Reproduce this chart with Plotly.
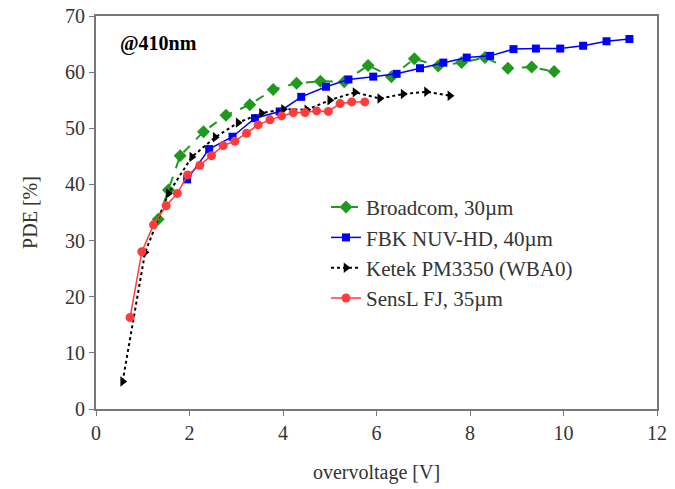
import plotly.graph_objects as go

# Broadcom, 30um
broadcom_v = [1.33, 1.55, 1.8, 2.3, 2.78, 3.29, 3.79, 4.29, 4.8, 5.31, 5.82, 6.32, 6.81, 7.32, 7.82, 8.32, 8.81, 9.32, 9.8]
broadcom_pde = [33.8, 39.0, 45.1, 49.4, 52.3, 54.2, 56.9, 58.0, 58.4, 58.3, 61.2, 59.2, 62.4, 61.1, 61.7, 62.6, 60.7, 60.9, 60.1]

# FBK NUV-HD, 40um
fbk_v = [1.95, 2.42, 2.92, 3.4, 3.93, 4.39, 4.92, 5.4, 5.93, 6.43, 6.93, 7.43, 7.93, 8.43, 8.93, 9.41, 9.93, 10.42, 10.92, 11.41]
fbk_pde = [40.9, 46.3, 48.5, 51.8, 53.0, 55.6, 57.4, 58.7, 59.2, 59.7, 60.7, 61.7, 62.6, 62.9, 64.1, 64.2, 64.2, 64.7, 65.5, 65.9]

# Ketek PM3350 (WBA0)
ketek_v = [0.57, 1.05, 1.55, 2.05, 2.55, 3.04, 3.54, 4.01, 4.51, 5.0, 5.54, 6.07, 6.57, 7.07, 7.57]
ketek_pde = [4.9, 27.9, 38.4, 44.9, 48.4, 51.0, 52.7, 53.4, 53.3, 55.0, 56.4, 55.3, 56.1, 56.5, 55.8]

# SensL FJ, 35um
sensl_v = [0.73, 0.98, 1.23, 1.5, 1.74, 1.96, 2.22, 2.47, 2.72, 2.97, 3.22, 3.47, 3.72, 3.97, 4.22, 4.47, 4.72, 4.97, 5.22, 5.47, 5.75]
sensl_pde = [16.3, 28.0, 32.8, 36.2, 38.4, 41.7, 43.4, 45.1, 46.9, 47.7, 49.1, 50.6, 51.5, 52.2, 52.8, 52.8, 53.1, 53.0, 54.4, 54.7, 54.7]

serif = "Liberation Serif"
txt = "#333333"

fig = go.Figure()
fig.add_trace(go.Scatter(x=broadcom_v, y=broadcom_pde, mode="lines+markers", name="Broadcom, 30µm",
                         line=dict(color="#1f9a1f", width=2, dash="dash"),
                         marker=dict(symbol="diamond", size=10, color="#1f9a1f")))
fig.add_trace(go.Scatter(x=fbk_v, y=fbk_pde, mode="lines+markers", name="FBK NUV-HD, 40µm",
                         line=dict(color="#0000ff", width=1.5),
                         marker=dict(symbol="square", size=8, color="#0000ff")))
fig.add_trace(go.Scatter(x=ketek_v, y=ketek_pde, mode="lines+markers", name="Ketek PM3350 (WBA0)",
                         line=dict(color="black", width=2, dash="dot"),
                         marker=dict(symbol="triangle-right", size=9, color="black")))
fig.add_trace(go.Scatter(x=sensl_v, y=sensl_pde, mode="lines+markers", name="SensL FJ, 35µm",
                         line=dict(color="#ff3b3b", width=1.5),
                         marker=dict(symbol="circle", size=9, color="#ff3b3b")))

fig.add_annotation(x=0.039, y=0.929, xref="paper", yref="paper", text="<b>@410nm</b>",
                   showarrow=False, xanchor="left", yanchor="middle",
                   font=dict(family=serif, size=20, color="black"))

axis_style = dict(showgrid=False, zeroline=False, showline=True, mirror=True, automargin=False,
                  linecolor="#777777", linewidth=2, ticks="outside", ticklen=5,
                  tickcolor="#777777", ticklabeloverflow="allow",
                  tickfont=dict(family=serif, size=20, color=txt))

fig.update_xaxes(range=[0, 12], dtick=2,
                 title=dict(text="overvoltage [V]", font=dict(family=serif, size=20, color=txt), standoff=22),
                 **axis_style)
fig.update_yaxes(range=[0, 70], dtick=10,
                 title=dict(text="PDE [%]", font=dict(family=serif, size=20, color=txt), standoff=22),
                 **axis_style)

fig.update_layout(
    width=675, height=489,
    margin=dict(l=96, r=18, t=16, b=80),
    font=dict(family=serif, color=txt),
    plot_bgcolor="white", paper_bgcolor="white",
    legend=dict(x=0.41, y=0.565, xanchor="left", yanchor="top",
                font=dict(family=serif, size=21, color=txt),
                bgcolor="rgba(0,0,0,0)"),
)

# drop the default 8px page margin so the figure fills the window exactly
fig.write_html("out.html", config={"displayModeBar": False},
               post_script="document.body.style.margin='0px';")
